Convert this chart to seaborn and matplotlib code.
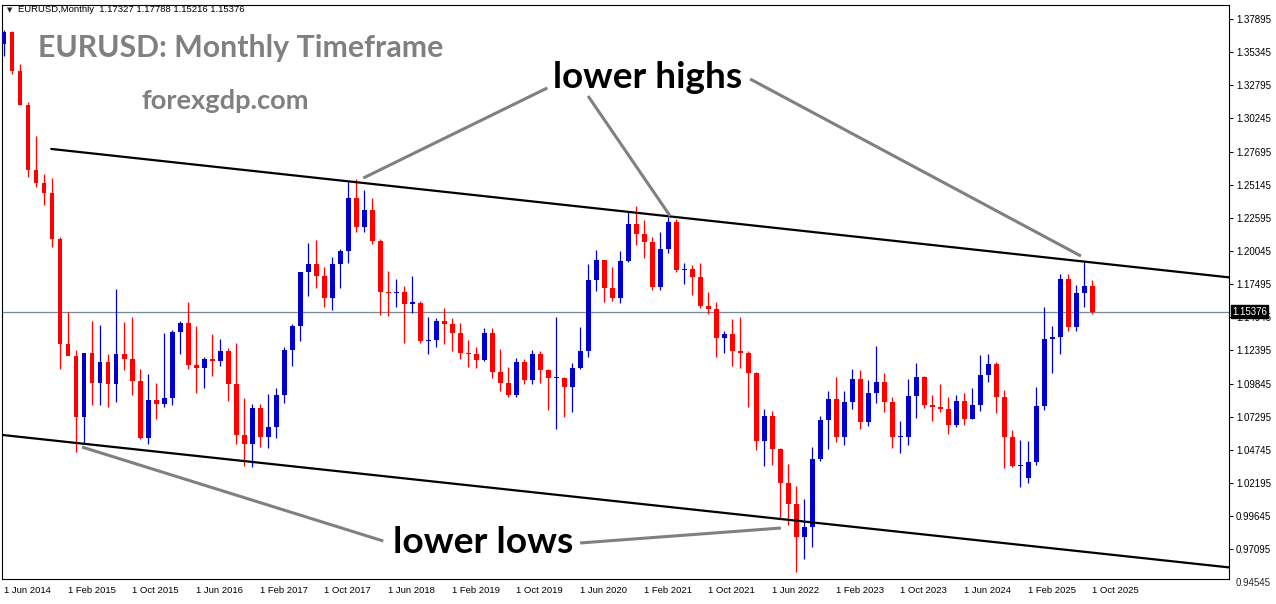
import matplotlib
matplotlib.use("Agg")
import matplotlib.pyplot as plt
import matplotlib.transforms as mtransforms
import numpy as np
import pandas as pd
import seaborn as sns

# EURUSD monthly candles, Jun 2014 .. Oct 2025
opens = [1.3596, 1.3692, 1.3390, 1.3131, 1.2628, 1.2525, 1.2450,
         1.2098, 1.1291, 1.1196, 1.0731, 1.1222, 1.0990, 1.1148, 1.0983, 1.1213, 1.1177, 1.1004, 1.0566,
         1.0861, 1.0830, 1.0873, 1.1380, 1.1451, 1.1130, 1.1104, 1.1172, 1.1157, 1.1239, 1.0981, 1.0587,
         1.0517, 1.0798, 1.0575, 1.0652, 1.0895, 1.1243, 1.1426, 1.1842, 1.1908, 1.1812, 1.1646, 1.1903,
         1.2005, 1.2414, 1.2193, 1.2322, 1.2078, 1.1693, 1.1683, 1.1691, 1.1601, 1.1605, 1.1313, 1.1317,
         1.1466, 1.1446, 1.1372, 1.1218, 1.1214, 1.1170, 1.1372, 1.1076, 1.0988, 1.0899, 1.1152, 1.1016,
         1.1212, 1.1093, 1.1026, 1.1031, 1.0955, 1.1102, 1.1234, 1.1778, 1.1937, 1.1720, 1.1646, 1.1927,
         1.2216, 1.2134, 1.2074, 1.1726, 1.2018, 1.2228, 1.1858, 1.1869, 1.1808, 1.1578, 1.1558, 1.1338,
         1.1370, 1.1235, 1.1218, 1.1067, 1.0545, 1.0733, 1.0482, 1.0220, 1.0055, 0.9802, 0.9885, 1.0406,
         1.0705, 1.0863, 1.0576, 1.0840, 1.1020, 1.0690, 1.0909, 1.0998, 1.0843, 1.0573, 1.0576, 1.0888,
         1.1039, 1.0818, 1.0805, 1.0790, 1.0668, 1.0848, 1.0713, 1.0824, 1.1048, 1.1135, 1.0882, 1.0577,
         1.0354, 1.0260, 1.0385, 1.0816, 1.1330, 1.1347, 1.1787, 1.1417, 1.1685, 1.17327]
highs = [1.3703, 1.3701, 1.3444, 1.3150, 1.2887, 1.2600, 1.2570,
         1.2110, 1.1534, 1.1243, 1.1214, 1.1467, 1.1436, 1.1216, 1.1714, 1.1460, 1.1495, 1.1094, 1.1060,
         1.0986, 1.1376, 1.1400, 1.1464, 1.1616, 1.1428, 1.1187, 1.1366, 1.1327, 1.1257, 1.1300, 1.0874,
         1.0829, 1.0829, 1.0906, 1.0950, 1.1268, 1.1445, 1.1846, 1.2070, 1.2092, 1.1880, 1.1961, 1.2023,
         1.2537, 1.2556, 1.2476, 1.2414, 1.2097, 1.1852, 1.1791, 1.1733, 1.1815, 1.1621, 1.1500, 1.1486,
         1.1570, 1.1489, 1.1448, 1.1324, 1.1265, 1.1412, 1.1412, 1.1250, 1.1109, 1.1179, 1.1176, 1.1240,
         1.1239, 1.1096, 1.1495, 1.1039, 1.1147, 1.1422, 1.1908, 1.2011, 1.1917, 1.1881, 1.2004, 1.2310,
         1.2349, 1.2243, 1.2113, 1.2150, 1.2266, 1.2254, 1.1909, 1.1900, 1.1909, 1.1692, 1.1616, 1.1386,
         1.1483, 1.1495, 1.1233, 1.1076, 1.0787, 1.0774, 1.0486, 1.0369, 1.0198, 1.0094, 1.0497, 1.0736,
         1.0930, 1.1033, 1.0930, 1.1095, 1.1092, 1.1012, 1.1276, 1.1065, 1.0882, 1.0695, 1.1017, 1.1140,
         1.1046, 1.0897, 1.0981, 1.0885, 1.0895, 1.0916, 1.0948, 1.1202, 1.1214, 1.1153, 1.0937, 1.0630,
         1.0551, 1.0543, 1.0955, 1.1573, 1.1426, 1.1829, 1.1830, 1.1741, 1.1918, 1.17788]
lows = [1.3503, 1.3366, 1.3125, 1.2571, 1.2500, 1.2358, 1.2035,
        1.1098, 1.1262, 1.0457, 1.0520, 1.0819, 1.0818, 1.0808, 1.0847, 1.1087, 1.0896, 1.0557, 1.0522,
        1.0711, 1.0807, 1.0822, 1.1216, 1.1097, 1.0912, 1.0952, 1.1046, 1.1122, 1.0852, 1.0518, 1.0352,
        1.0340, 1.0494, 1.0493, 1.0570, 1.0839, 1.1118, 1.1312, 1.1662, 1.1717, 1.1574, 1.1554, 1.1717,
        1.1915, 1.2154, 1.2154, 1.2055, 1.1510, 1.1508, 1.1575, 1.1301, 1.1525, 1.1301, 1.1216, 1.1269,
        1.1289, 1.1234, 1.1176, 1.1111, 1.1107, 1.1160, 1.1028, 1.0927, 1.0879, 1.0879, 1.0981, 1.0981,
        1.0992, 1.0778, 1.0636, 1.0727, 1.0766, 1.1097, 1.1186, 1.1696, 1.1612, 1.1623, 1.1603, 1.1923,
        1.2054, 1.1952, 1.1704, 1.1704, 1.1986, 1.1846, 1.1752, 1.1664, 1.1563, 1.1524, 1.1186, 1.1222,
        1.1121, 1.1106, 1.0806, 1.0471, 1.0349, 1.0359, 0.9952, 0.9901, 0.9536, 0.9632, 0.9730, 1.0392,
        1.0483, 1.0533, 1.0516, 1.0788, 1.0635, 1.0662, 1.0833, 1.0766, 1.0488, 1.0448, 1.0516, 1.0724,
        1.0795, 1.0695, 1.0768, 1.0601, 1.0649, 1.0668, 1.0709, 1.0777, 1.1001, 1.0761, 1.0332, 1.0343,
        1.0190, 1.0220, 1.0360, 1.0778, 1.1064, 1.1211, 1.1392, 1.1391, 1.1573, 1.15216]
closes = [1.3692, 1.3390, 1.3131, 1.2628, 1.2525, 1.2450, 1.2098,
          1.1291, 1.1196, 1.0731, 1.1222, 1.0990, 1.1148, 1.0983, 1.1213, 1.1177, 1.1004, 1.0566, 1.0861,
          1.0830, 1.0873, 1.1380, 1.1451, 1.1130, 1.1104, 1.1172, 1.1157, 1.1239, 1.0981, 1.0587, 1.0517,
          1.0798, 1.0575, 1.0652, 1.0895, 1.1243, 1.1426, 1.1842, 1.1908, 1.1812, 1.1646, 1.1903, 1.2005,
          1.2414, 1.2193, 1.2322, 1.2078, 1.1693, 1.1683, 1.1691, 1.1601, 1.1605, 1.1313, 1.1317, 1.1466,
          1.1446, 1.1372, 1.1218, 1.1214, 1.1170, 1.1372, 1.1076, 1.0988, 1.0899, 1.1152, 1.1016, 1.1212,
          1.1093, 1.1026, 1.1031, 1.0955, 1.1102, 1.1234, 1.1778, 1.1937, 1.1720, 1.1646, 1.1927, 1.2216,
          1.2134, 1.2074, 1.1726, 1.2018, 1.2228, 1.1858, 1.1869, 1.1808, 1.1578, 1.1558, 1.1338, 1.1370,
          1.1235, 1.1218, 1.1067, 1.0545, 1.0733, 1.0482, 1.0220, 1.0055, 0.9802, 0.9885, 1.0406, 1.0705,
          1.0863, 1.0576, 1.0840, 1.1020, 1.0690, 1.0909, 1.0998, 1.0843, 1.0573, 1.0576, 1.0888, 1.1039,
          1.0818, 1.0805, 1.0790, 1.0668, 1.0848, 1.0713, 1.0824, 1.1048, 1.1135, 1.0882, 1.0577, 1.0354,
          1.0362, 1.0385, 1.0816, 1.1330, 1.1347, 1.1787, 1.1417, 1.1685, 1.1733, 1.15376]

price_ticks = [1.37895, 1.35345, 1.32795, 1.30245, 1.27695, 1.25145, 1.22595, 1.20045, 1.17495,
               1.14945, 1.12395, 1.09845, 1.07295, 1.04745, 1.02195, 0.99645, 0.97095]
bottom_tick = 0.94545
date_labels = ["1 Jun 2014", "1 Feb 2015", "1 Oct 2015", "1 Jun 2016", "1 Feb 2017", "1 Oct 2017",
               "1 Jun 2018", "1 Feb 2019", "1 Oct 2019", "1 Jun 2020", "1 Feb 2021", "1 Oct 2021",
               "1 Jun 2022", "1 Feb 2023", "1 Oct 2023", "1 Jun 2024", "1 Feb 2025", "1 Oct 2025"]
last_price = 1.15376
header = "EURUSD,Monthly  1.17327 1.17788 1.15216 1.15376"

# channel lines as (bar index, price)
upper_x = [5.9, 153.1]
upper_y = [1.2790, 1.1802]
lower_x = [-0.25, 153.1]
lower_y = [1.0590, 0.9571]

# annotation pointers: (text end) -> (chart point)
highs_segments = [((67.9, 1.3259), (44.9, 1.2566)),
                  ((73.0, 1.3197), (83.25, 1.2274)),
                  ((93.25, 1.3328), (134.6, 1.1966))]
lows_segments = [((47.4, 0.9774), (9.75, 1.0497)),
                 ((72.0, 0.9759), (97.1, 0.9874))]

df = pd.DataFrame({"open": opens, "high": highs, "low": lows, "close": closes})
df["idx"] = np.arange(len(df))
df["up"] = df["close"] >= df["open"]

sns.set_theme(style="white")
plt.rcParams['font.family'] = ['Liberation Sans', 'DejaVu Sans']

W, H = 1276, 604
fig = plt.figure(figsize=(W / 100, H / 100), dpi=100)
L, R, T, B = 2, 1229, 5, 579
ax = fig.add_axes([L / W, 1 - B / H, (R - L) / W, (B - T) / H])

blue = "#0000CC"
red = "#FF0000"
colors = np.where(df["up"], blue, red)

# wicks
ax.vlines(df["idx"], df["low"], df["high"], colors=colors, linewidth=0.9, zorder=3)
# bodies
body_lo = np.minimum(df["open"], df["close"])
body_h = np.maximum((df["close"] - df["open"]).abs(), 0.0008)
ax.bar(df["idx"], body_h, bottom=body_lo, width=0.62, color=colors, linewidth=0, zorder=4)

# channel lines
sns.lineplot(x=upper_x, y=upper_y, ax=ax, color="black", linewidth=1.6, zorder=5)
sns.lineplot(x=lower_x, y=lower_y, ax=ax, color="black", linewidth=1.6, zorder=5)

# current price line
ax.axhline(last_price, color="#778899", linewidth=0.9, zorder=2)

# annotation pointers
for (a, b) in highs_segments + lows_segments:
    ax.plot([a[0], b[0]], [a[1], b[1]], color="#808080", linewidth=2.2, zorder=6,
            solid_capstyle="butt")

ax.text(80.4, 1.3259, "lower highs", fontsize=26.6, fontweight="bold", family="Lato",
        ha="center", va="baseline", color="black", zorder=7)
ax.text(59.9, 0.9682, "lower lows", fontsize=26.8, fontweight="bold", family="Lato",
        ha="center", va="baseline", color="black", zorder=7)

ax.set_xlim(-0.25, 153.1)
ax.set_ylim(0.94818, 1.38972)

# axes in MT4 style
ax.yaxis.tick_right()
ax.set_yticks(price_ticks)
ax.set_yticklabels([f"{p:.5f}" for p in price_ticks])
ax.set_xticks(np.arange(0, len(df), 8))
ax.set_xticklabels(date_labels, ha="left")
ax.tick_params(axis="y", direction="out", length=3, width=0.7, pad=2, labelsize=7, colors="black")
ax.tick_params(axis="x", direction="out", length=3, width=0.7, pad=2, labelsize=6.8, colors="black")
for s in ax.spines.values():
    s.set_color("black")
    s.set_linewidth(0.8)
ax.grid(False)
ax.set_xlabel("")
ax.set_ylabel("")

trans = mtransforms.blended_transform_factory(ax.transAxes, ax.transData)
ax.text(1 + 7 / (R - L), bottom_tick, f"{bottom_tick:.5f}", transform=trans, fontsize=7,
        va="center", ha="left", clip_on=False)
ax.text(1 + 3 / (R - L), last_price, f"{last_price:.5f}", transform=trans, fontsize=7,
        va="center", ha="left", color="white", clip_on=False, zorder=10,
        bbox=dict(boxstyle="square,pad=0.15", facecolor="black", edgecolor="black"))

# header and watermark titles
fig.text(7 / W, 1 - 10 / H, "\u25bc", fontsize=5, family="DejaVu Sans", va="center", ha="left")
fig.text(18 / W, 1 - 10 / H, header, fontsize=6.8, va="center", ha="left", color="black")
fig.text(38 / W, 1 - 57 / H, "EURUSD: Monthly Timeframe", fontsize=21.8, fontweight="bold",
         family="Lato", color="#808080", va="baseline", ha="left")
fig.text(142 / W, 1 - 109 / H, "forexgdp.com", fontsize=19.6, fontweight="bold",
         family="Lato", color="#808080", va="baseline", ha="left")

fig.savefig("out.png", dpi=100)
